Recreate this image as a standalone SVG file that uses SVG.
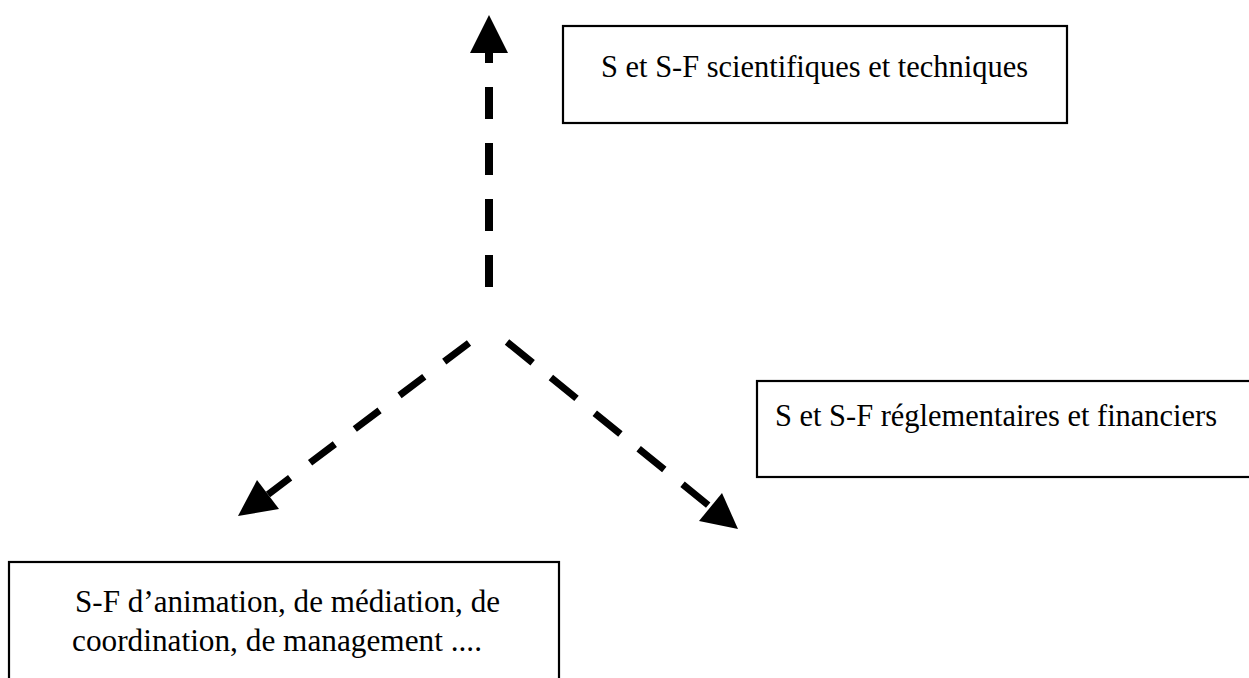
<svg xmlns="http://www.w3.org/2000/svg" width="1249" height="678" viewBox="0 0 1249 678">
  <style>
    .box { fill: #ffffff; stroke: #000000; stroke-width: 2.2; }
    .label { font-family: "Liberation Serif", "Times New Roman", serif; font-size: 32px; fill: #000000; }
    .dash { fill: none; stroke: #000000; stroke-linecap: butt; }
    .head { fill: #000000; stroke: none; }
  </style>
  <rect width="1249" height="678" fill="#ffffff"/>

  <!-- dashed arrows radiating from a common origin -->
  <g id="connectors">
    <line class="dash" x1="489" y1="287" x2="489" y2="52" stroke-width="8" stroke-dasharray="32 24"/>
    <polygon class="head" points="489,15 508,53 470,53"/>

    <line class="dash" x1="469" y1="343" x2="268" y2="494.5" stroke-width="7" stroke-dasharray="31 25"/>
    <polygon class="head" points="238,516 257,480 279,509"/>

    <line class="dash" x1="507" y1="342" x2="710.5" y2="507" stroke-width="7" stroke-dasharray="33 23.5"/>
    <polygon class="head" points="738,529 722,493 699,521"/>
  </g>

  <g id="node-scientifiques">
    <rect class="box" x="563" y="26" width="504" height="97"/>
    <text class="label" x="601" y="77" textLength="427" lengthAdjust="spacingAndGlyphs">S et S-F scientifiques et techniques</text>
  </g>

  <g id="node-reglementaires">
    <rect class="box" x="757" y="381" width="520" height="96"/>
    <text class="label" x="775" y="426" textLength="442" lengthAdjust="spacingAndGlyphs">S et S-F réglementaires et financiers</text>
  </g>

  <g id="node-animation">
    <rect class="box" x="9" y="562" width="550" height="140"/>
    <text class="label" x="75" y="612" textLength="425" lengthAdjust="spacingAndGlyphs">S-F d’animation, de médiation, de</text>
    <text class="label" x="72" y="651" textLength="410" lengthAdjust="spacingAndGlyphs">coordination, de management ....</text>
  </g>
</svg>
